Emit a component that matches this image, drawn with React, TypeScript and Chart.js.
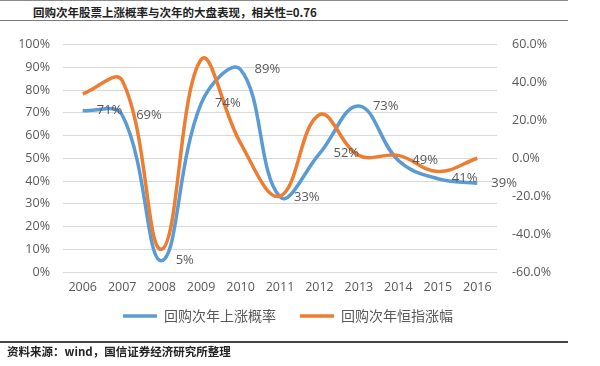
import { useEffect, useRef } from "react";
import { Chart, registerables } from "chart.js";

Chart.register(...registerables);

const years = ["2006", "2007", "2008", "2009", "2010", "2011", "2012", "2013", "2014", "2015", "2016"];
const upProbability = [71, 69, 5, 74, 89, 33, 52, 73, 49, 41, 39];
const hsiChange = [34, 41, -48, 52, 8, -20, 23, 1.5, 1.5, -7, 0];
const seriesNames = ["回购次年上涨概率", "回购次年恒指涨幅"];
const titleText = "回购次年股票上涨概率与次年的大盘表现，相关性=0.76";
const sourceText = "资料来源：wind，国信证券经济研究所整理";

const BLUE = "#5B9BD5";
const ORANGE = "#ED7D31";
const GREY = "#595959";
const NUM_FONT = "'Open Sans', 'Noto Sans CJK SC', sans-serif";
const CJK_FONT = "'Noto Sans CJK SC', sans-serif";

const dataLabelPlugin = {
  id: "blueLabels",
  afterDatasetsDraw(chart: any) {
    const meta = chart.getDatasetMeta(0);
    const ctx = chart.ctx;
    ctx.save();
    ctx.font = `13px ${NUM_FONT}`;
    ctx.fillStyle = GREY;
    ctx.textAlign = "left";
    ctx.textBaseline = "middle";
    meta.data.forEach((pt: any, i: number) => {
      ctx.fillText(`${upProbability[i]}%`, pt.x + 14, pt.y);
    });
    ctx.restore();
  },
};

const legendShiftPlugin = {
  id: "legendShift",
  afterLayout(chart: any) {
    const l = chart.legend;
    if (l) {
      l.top -= 11;
      l.bottom -= 11;
    }
  },
};

export default function App() {
  const ref = useRef<HTMLCanvasElement>(null);

  useEffect(() => {
    if (!ref.current) return;
    const chart = new Chart(ref.current, {
      type: "line",
      data: {
        labels: years,
        datasets: [
          {
            label: seriesNames[0],
            data: upProbability,
            borderColor: BLUE,
            backgroundColor: BLUE,
            borderWidth: 3.5,
            pointRadius: 0,
            tension: 0.4,
            yAxisID: "y",
            order: 1,
          },
          {
            label: seriesNames[1],
            data: hsiChange,
            borderColor: ORANGE,
            backgroundColor: ORANGE,
            borderWidth: 3.5,
            pointRadius: 0,
            tension: 0.4,
            yAxisID: "y1",
            order: 0,
          },
        ],
      },
      options: {
        responsive: false,
        animation: false,
        devicePixelRatio: 1,
        layout: { padding: { top: 14, left: 0, right: 24, bottom: 22 } },
        plugins: {
          title: { display: false },
          tooltip: { enabled: false },
          legend: {
            position: "bottom",
            labels: {
              usePointStyle: true,
              pointStyle: "line",
              pointStyleWidth: 34,
              padding: 24,
              color: GREY,
              font: { size: 14, family: CJK_FONT },
              sort: (a: any, b: any) => a.datasetIndex - b.datasetIndex,
            },
          },
        },
        scales: {
          x: {
            offset: true,
            grid: { display: false, drawTicks: false },
            border: { display: false },
            ticks: {
              color: GREY,
              padding: 8,
              maxRotation: 0,
              autoSkip: false,
              font: { size: 12.5, family: NUM_FONT },
            },
            afterFit: (s: any) => {
              s.height = 24;
            },
          },
          y: {
            position: "left",
            min: 0,
            max: 100,
            grid: { color: "#D9D9D9", lineWidth: 1, drawTicks: false },
            border: { display: false },
            ticks: {
              stepSize: 10,
              padding: 13,
              color: GREY,
              font: { size: 12.5, family: NUM_FONT },
              callback: (v: any) => `${v}%`,
            },
            afterFit: (s: any) => {
              s.width = 63;
            },
          },
          y1: {
            position: "right",
            min: -60,
            max: 60,
            grid: { display: false, drawTicks: false },
            border: { display: false },
            ticks: {
              stepSize: 20,
              padding: 15,
              color: GREY,
              font: { size: 12.5, family: NUM_FONT },
              callback: (v: any) => `${Number(v).toFixed(1)}%`,
            },
            afterFit: (s: any) => {
              s.width = 79;
            },
          },
        },
      },
      plugins: [dataLabelPlugin, legendShiftPlugin],
    });
    return () => chart.destroy();
  }, []);

  return (
    <div
      style={{
        position: "fixed",
        left: 0,
        top: 0,
        width: 600,
        height: 366,
        background: "#fff",
        overflow: "hidden",
      }}
    >
      <div style={{ position: "absolute", left: 0, top: 0, width: 568, height: 0, borderTop: "1.5px solid #8a8a8a" }} />
      <div
        style={{
          position: "absolute",
          left: 33,
          top: 3,
          height: 18,
          lineHeight: "18px",
          fontFamily: CJK_FONT,
          fontWeight: 700,
          fontSize: 11.5,
          color: "#222",
          whiteSpace: "nowrap",
        }}
      >
        {titleText}
      </div>
      <div style={{ position: "absolute", left: 0, top: 20, width: 568, height: 0, borderTop: "1.5px solid #7a7a7a" }} />
      <canvas ref={ref} width={600} height={344} style={{ position: "absolute", left: 0, top: 22, width: 600, height: 344 }} />
      <div style={{ position: "absolute", left: 0, top: 341, width: 568, height: 0, borderTop: "2px solid #444" }} />
      <div
        style={{
          position: "absolute",
          left: 7,
          top: 343,
          height: 17,
          lineHeight: "17px",
          fontFamily: CJK_FONT,
          fontWeight: 700,
          fontSize: 11.5,
          color: "#222",
          whiteSpace: "nowrap",
        }}
      >
        {sourceText}
      </div>
    </div>
  );
}
